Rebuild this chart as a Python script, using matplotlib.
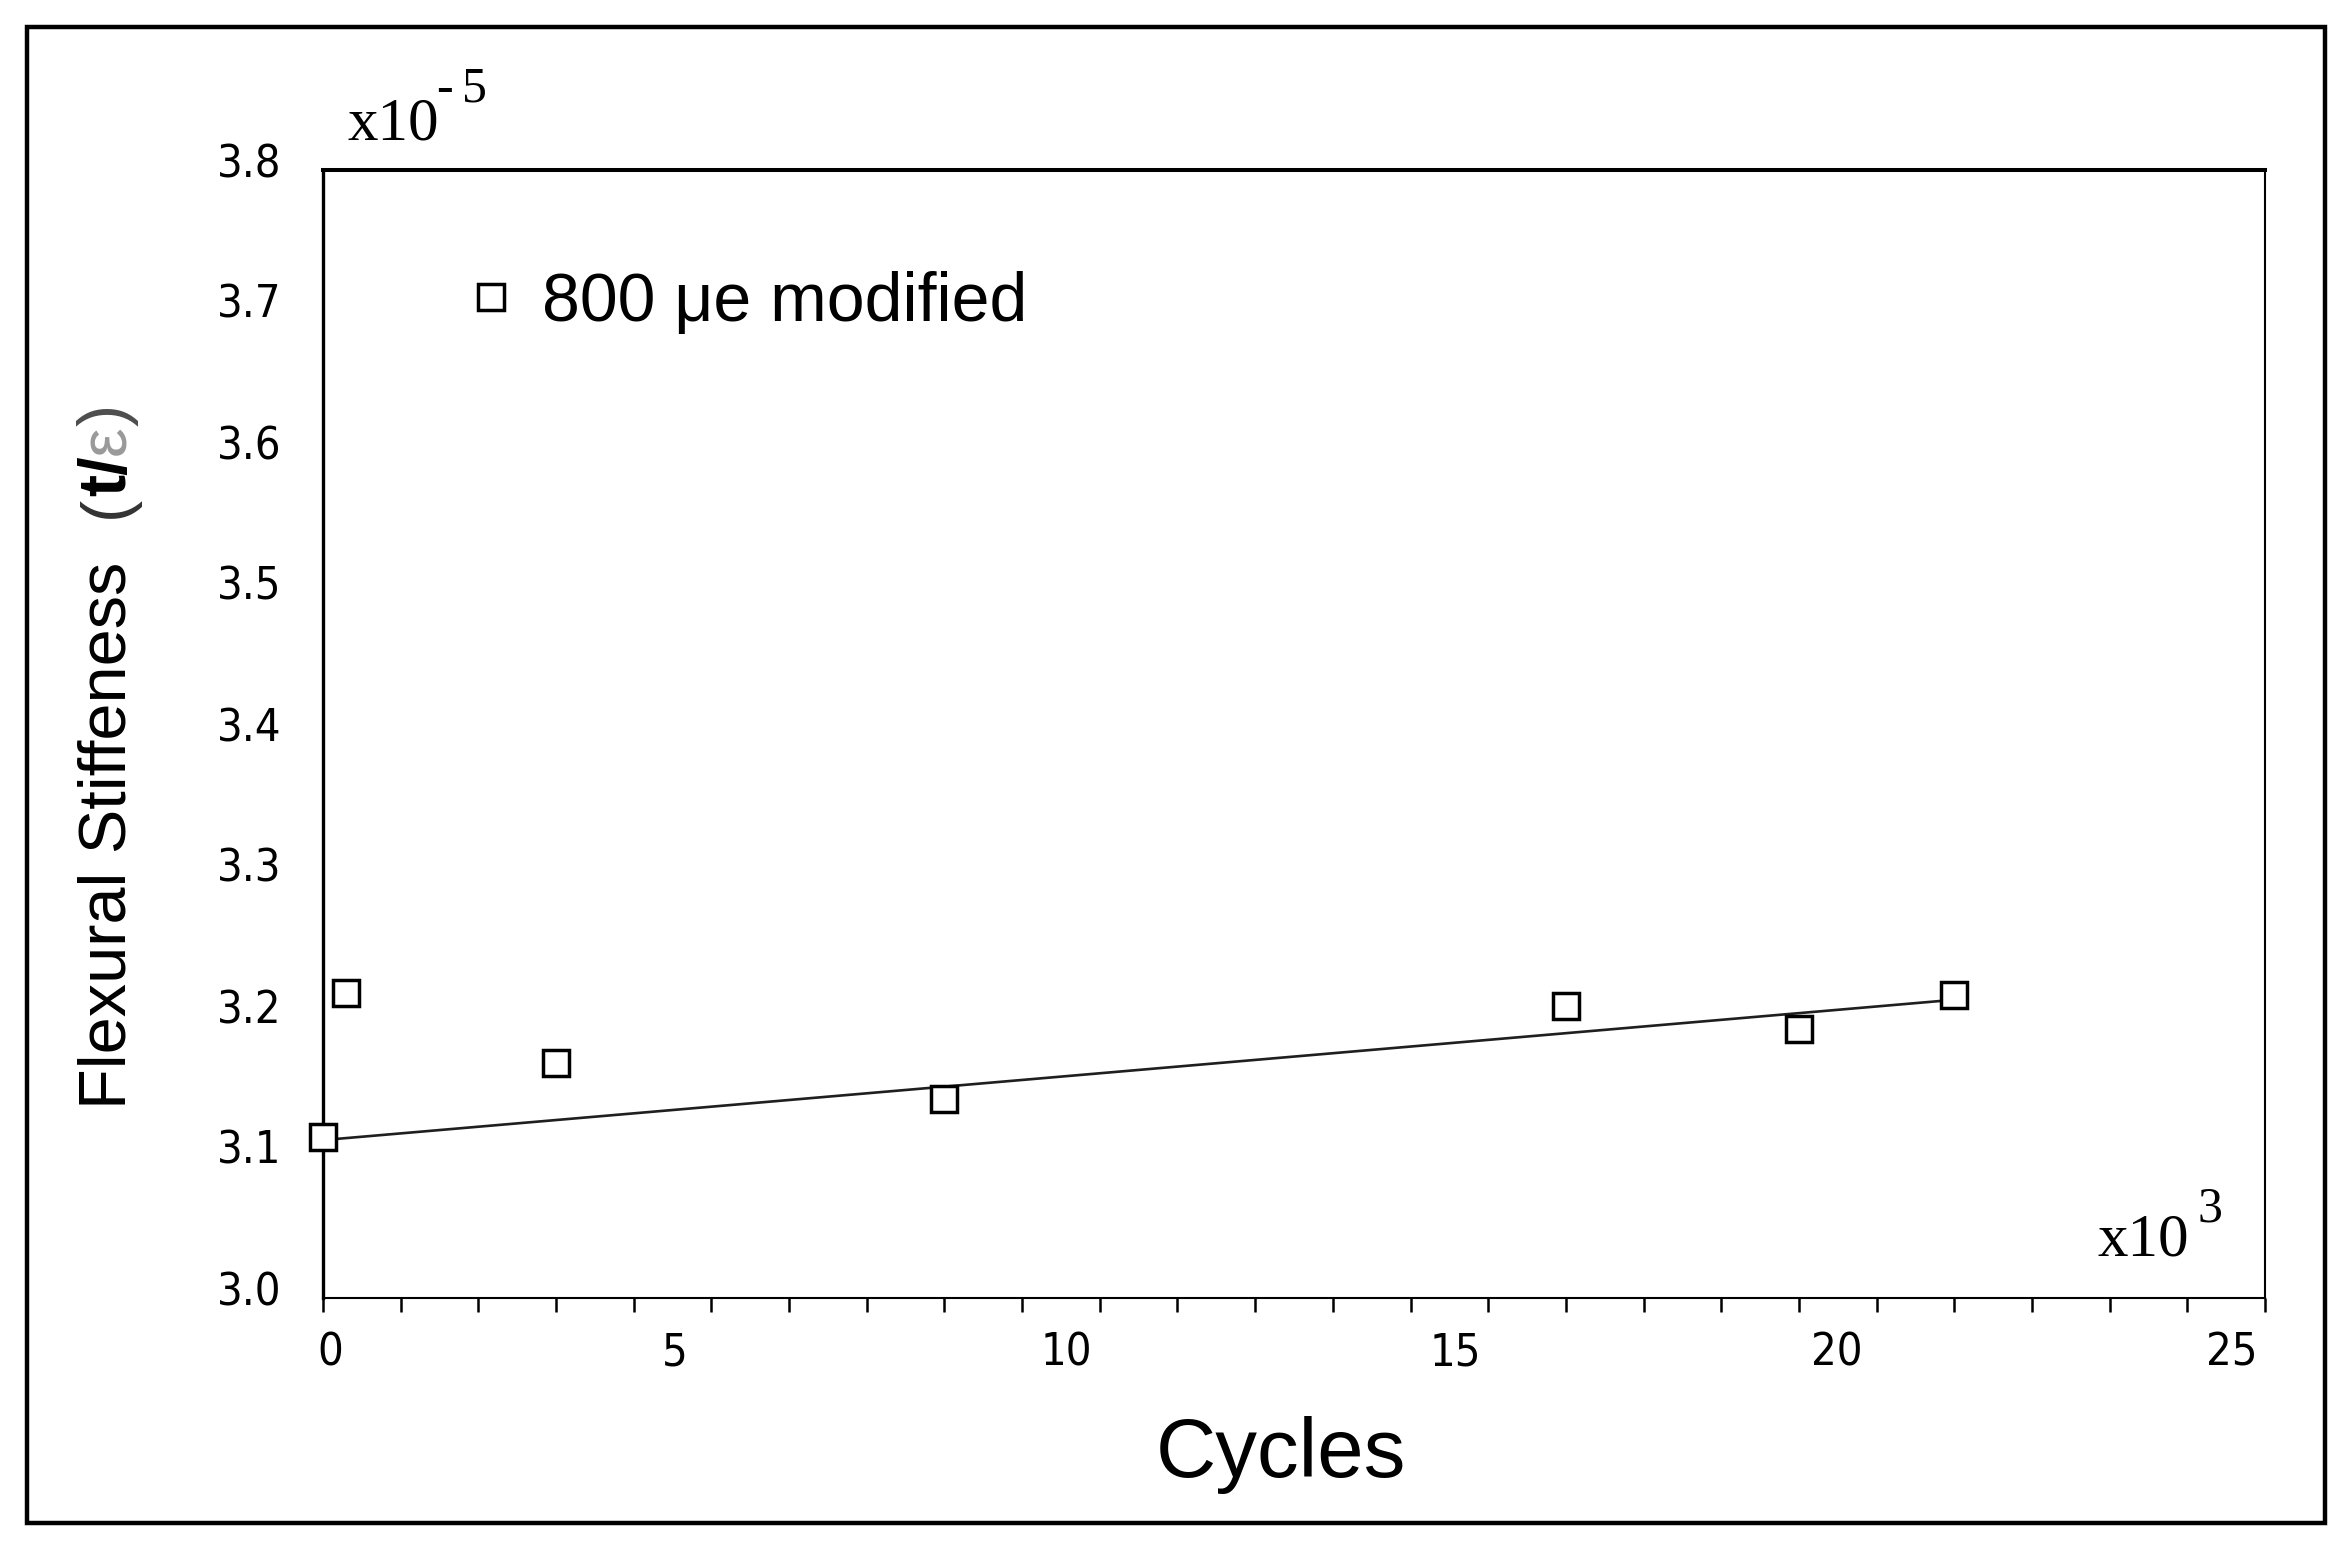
import matplotlib
matplotlib.use("Agg")
import matplotlib.pyplot as plt
import matplotlib.transforms as mtransforms
from matplotlib.font_manager import FontProperties
from matplotlib.patches import Rectangle
from matplotlib.ticker import MultipleLocator

# values (cycles in 10^3, stiffness in 10^-5)
cycles = [0, 0.3, 3, 8, 16, 19, 21]
stiffness = [3.114, 3.216, 3.167, 3.141, 3.207, 3.191, 3.215]

# fitted trend line as drawn in the original
trend_x = [0, 21]
trend_y = [3.112, 3.2115]

xticks = [0, 5, 10, 15, 20, 25]
yticks = [3.0, 3.1, 3.2, 3.3, 3.4, 3.5, 3.6, 3.7, 3.8]
ytick_labels = ["3.0", "3.1", "3.2", "3.3", "3.4", "3.5", "3.6", "3.7", "3.8"]

# the original x labels sit a bit off their ticks (pixels)
xlabel_shift = [7, -37, -33, -33, -40, -33]

W, H = 2352, 1551
fig = plt.figure(figsize=(W / 100, H / 100), dpi=100)


def fx(x):
    return x / W


def fy(y):
    return 1 - y / H


# outer frame around the whole picture
fig.add_artist(Rectangle((fx(27), fy(1523)), 2298 / W, 1496 / H,
                         transform=fig.transFigure, fill=False,
                         lw=3.2, ec="black"))

ax = fig.add_axes([fx(323), fy(1298), 1942 / W, 1128 / H])

ax.plot(trend_x, trend_y, color="0.12", lw=1.9, zorder=2)
ax.plot(cycles, stiffness, ls="none", marker="s", ms=18.5, mfc="white",
        mec="black", mew=2.5, zorder=3, clip_on=False,
        label="800 \u03bce modified")

ax.set_xlim(0, 25)
ax.set_ylim(3.0, 3.8)

ax.spines["top"].set_linewidth(2.9)
ax.spines["left"].set_linewidth(2.4)
ax.spines["bottom"].set_linewidth(1.5)
ax.spines["right"].set_linewidth(1.5)

tick_font = FontProperties(family="DejaVu Sans", stretch="condensed", size=32.5)

ax.set_xticks(xticks)
ax.set_xticklabels([str(t) for t in xticks], fontproperties=tick_font)
ax.xaxis.set_minor_locator(MultipleLocator(1))
ax.tick_params(axis="x", which="both", direction="out", length=10,
               width=1.8, color="black", pad=14)
ax.set_yticks(yticks)
ax.set_yticklabels(ytick_labels, fontproperties=tick_font)
ax.tick_params(axis="y", which="both", length=0, pad=30)

for lab, dx in zip(ax.get_xticklabels(), xlabel_shift):
    lab.set_transform(lab.get_transform() +
                      mtransforms.ScaledTranslation(dx / 100, 0, fig.dpi_scale_trans))
for lab in ax.get_yticklabels():
    lab.set_transform(lab.get_transform() +
                      mtransforms.ScaledTranslation(0, 10 / 100, fig.dpi_scale_trans))

# legend
ax.legend(loc="center left", bbox_to_anchor=(fx(477), fy(303)),
          bbox_transform=fig.transFigure, frameon=False, borderpad=0,
          borderaxespad=0, handlelength=0.4, handletextpad=0.55,
          numpoints=1, prop=FontProperties(family="Liberation Sans", size=49))

# x label
fig.text(fx(1281), fy(1477), "Cycles", family="Liberation Sans", size=60,
         ha="center", va="baseline")

# scale notes
fig.text(fx(348), fy(140), "x10", family="Liberation Serif", size=44,
         ha="left", va="baseline")
fig.text(fx(436), fy(102), "-", family="Liberation Serif", size=36,
         ha="left", va="baseline")
fig.text(fx(462), fy(102), "5", family="Liberation Serif", size=36,
         ha="left", va="baseline")
fig.text(fx(2097), fy(1255), "x10", family="Liberation Serif", size=44,
         ha="left", va="baseline")
fig.text(fx(2198), fy(1221), "3", family="Liberation Serif", size=36,
         ha="left", va="baseline")

# y label built from pieces (bold t/, grey epsilon)
fig.canvas.draw()
renderer = fig.canvas.get_renderer()
pieces = [("Flexural Stiffeness", "normal", "black", 1109),
          ("(", "normal", "0.2", 518),
          ("t/", "bold", "black", None),
          ("\u03b5", "normal", "0.6", None),
          (")", "normal", "0.3", None)]
y_next = None
for text, weight, color, ystart in pieces:
    y0 = fy(ystart) if ystart is not None else y_next
    t = fig.text(fx(108), y0, text, family="Liberation Sans", size=48,
                 weight=weight, color=color, rotation=90,
                 rotation_mode="anchor", ha="left", va="center")
    bb = t.get_window_extent(renderer)
    y_next = bb.y1 / H

fig.savefig("out.png", dpi=100)
